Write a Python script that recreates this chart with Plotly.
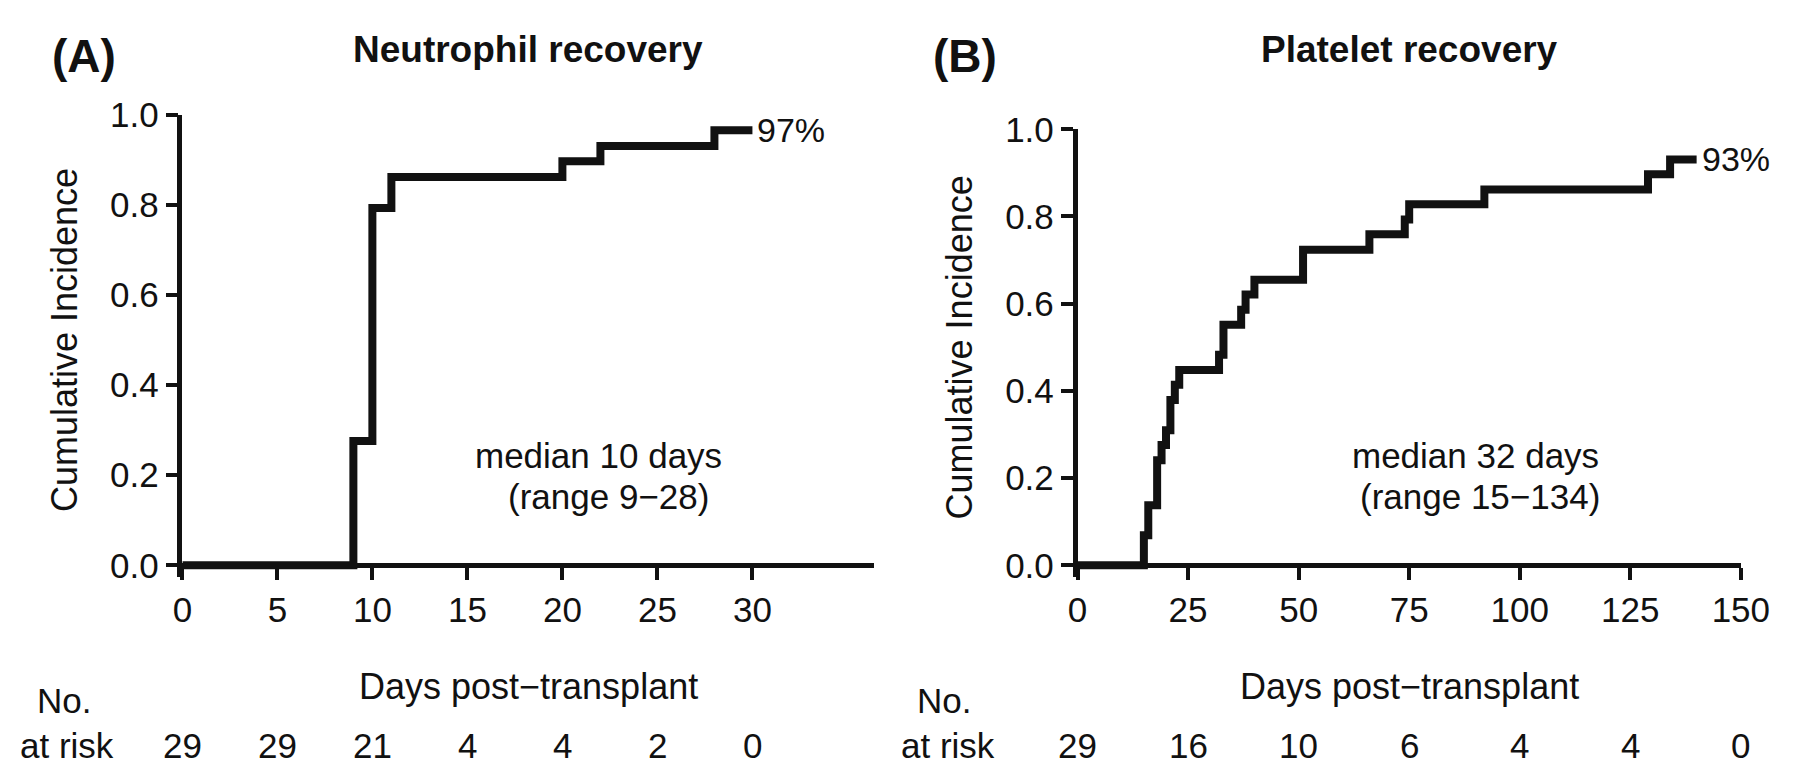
import plotly.graph_objects as go

W, H = 1800, 764

# Neutrophil recovery (panel A), step curve
neut_days = [0, 9, 10, 11, 20, 22, 28, 30]
neut_inc = [0.0, 0.276, 0.793, 0.862, 0.897, 0.931, 0.966, 0.966]

# Platelet recovery (panel B), step curve
plt_days = [0, 15, 16, 18, 19, 20, 21, 22, 23, 32, 33, 37, 38, 40, 51, 66, 74, 75, 92, 129, 134, 140]
plt_inc = [0.0, 0.069, 0.138, 0.241, 0.276, 0.310, 0.379, 0.414, 0.448, 0.483, 0.552, 0.586,
           0.621, 0.655, 0.724, 0.759, 0.793, 0.828, 0.862, 0.897, 0.931, 0.931]

# number at risk rows
neut_risk_days = [0, 5, 10, 15, 20, 25, 30]
neut_risk = [29, 29, 21, 4, 4, 2, 0]
plt_risk_days = [0, 25, 50, 75, 100, 125, 150]
plt_risk = [29, 16, 10, 6, 4, 4, 0]

y_ticks = [0.0, 0.2, 0.4, 0.6, 0.8, 1.0]
y_ticklabels = ["0.0", "0.2", "0.4", "0.6", "0.8", "1.0"]

FONT = "Liberation Sans, Arial, Helvetica, sans-serif"
INK = "#111111"


def fx(p):
    return p / W


def fy(p):
    return 1 - p / H


# pixel geometry of the two plot areas
A_left, A_right, A_top, A_zero = 168, 875, 90, 557
B_left, B_right, B_top, B_zero = 1083, 1761, 105, 557
PAD = 12  # room under y=0 so the thick curve is not clipped

fig = go.Figure()
fig.add_trace(go.Scatter(x=neut_days, y=neut_inc, mode="lines", line_shape="hv",
                         line=dict(color=INK, width=8), xaxis="x", yaxis="y",
                         showlegend=False, hoverinfo="skip"))
fig.add_trace(go.Scatter(x=plt_days, y=plt_inc, mode="lines", line_shape="hv",
                         line=dict(color=INK, width=8), xaxis="x2", yaxis="y2",
                         showlegend=False, hoverinfo="skip"))

axis_common = dict(showgrid=False, zeroline=False, showline=True, linecolor=INK, linewidth=4.5,
                   ticks="outside", ticklen=12, tickwidth=4, tickcolor=INK,
                   tickfont=dict(family=FONT, size=35, color=INK), fixedrange=True)


def y_range(top, zero):
    span = zero - top
    return [-PAD / span, 1.0]


fig.update_layout(
    width=W, height=H, autosize=False,
    margin=dict(l=0, r=0, t=0, b=0),
    paper_bgcolor="white", plot_bgcolor="white",
    font=dict(family=FONT, color=INK),
    xaxis=dict(axis_common, domain=[fx(A_left), fx(A_right)], range=[0, 36.4],
               tickvals=neut_risk_days, anchor="free", position=fy(A_zero), ticklabelstandoff=0),
    yaxis=dict(axis_common, domain=[fy(A_zero + PAD), fy(A_top)], range=y_range(A_top, A_zero),
               tickvals=y_ticks, ticktext=y_ticklabels, anchor="x", ticklabelstandoff=0),
    xaxis2=dict(axis_common, domain=[fx(B_left), fx(B_right)], range=[0, 150],
                tickvals=plt_risk_days, anchor="free", position=fy(B_zero), ticklabelstandoff=0),
    yaxis2=dict(axis_common, domain=[fy(B_zero + PAD), fy(B_top)], range=y_range(B_top, B_zero),
                tickvals=y_ticks, ticktext=y_ticklabels, anchor="x2", ticklabelstandoff=0),
)

ann = []


def text(x, y, s, size=35, bold=False, xanchor="center", angle=0, xref="paper", yref="paper"):
    ann.append(dict(x=x, y=y, xref=xref, yref=yref, text=("<b>%s</b>" % s) if bold else s,
                    showarrow=False, xanchor=xanchor, yanchor="middle", textangle=angle,
                    font=dict(family=FONT, size=size, color=INK)))


panels = [
    ("(A)", "Neutrophil recovery", A_left, A_right, A_top, A_zero, 0, "x",
     neut_risk_days, neut_risk, "97%", neut_days[-1], neut_inc[-1],
     "median 10 days", "(range 9\u221228)", 21.9, 22.4),
    ("(B)", "Platelet recovery", B_left, B_right, B_top, B_zero, 900, "x2",
     plt_risk_days, plt_risk, "93%", plt_days[-1], plt_inc[-1],
     "median 32 days", "(range 15\u2212134)", 90, 91),
]

for (letter, title, left, right, top, zero, off, xr, rdays, rvals, pct, pend, pval,
     med, rng, medx, rngx) in panels:
    yr = "y" if xr == "x" else "y2"
    text(fx(off + 33), fy(29), letter, size=46, bold=True, xanchor="left")
    text(fx((left + right) / 2), fy(22), title, size=37, bold=True)
    text(fx(off + 47 if xr == "x" else off + 62), fy((top + zero) / 2), "Cumulative Incidence",
         size=36, angle=-90)
    text(fx((left + right) / 2), fy(683), "Days post\u2212transplant", size=36)
    text(fx(off + 17), fy(697), "No.", size=35, xanchor="left")
    text(fx(off + 0), fy(744), "at risk", size=35, xanchor="left")
    for d, v in zip(rdays, rvals):
        text(d, fy(744), str(v), size=35, xref=xr)
    ann.append(dict(x=pend, y=pval, xref=xr, yref=yr, text=pct, showarrow=False,
                    xanchor="left", yanchor="middle", xshift=3,
                    font=dict(family=FONT, size=34, color=INK)))
    text(medx, fy(443), med, size=35, xref=xr)
    text(rngx, fy(486), rng, size=35, xref=xr)

fig.update_layout(annotations=ann)

fig.write_html("out.html")
